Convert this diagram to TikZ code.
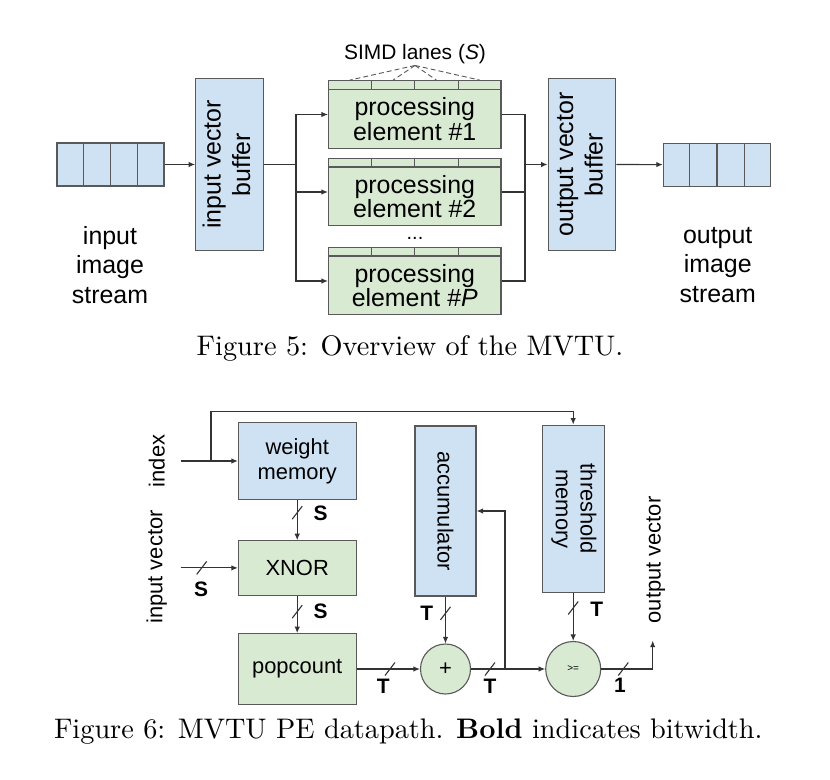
\documentclass[tikz,border=0pt]{standalone}
\usepackage{fontspec}
\usepackage{graphicx}
\usetikzlibrary{arrows.meta}
\usetikzlibrary{calc}
\usepackage{xcolor}

\newfontfamily\drawfont{Liberation Sans}
\definecolor{memblue}{HTML}{CFE2F3}
\definecolor{pegreen}{HTML}{D9EAD3}
\definecolor{boxline}{HTML}{595959}

\begin{document}
\begin{tikzpicture}[x=1bp,y=-1bp,
    bigtext/.style={font=\drawfont\fontsize{25}{29.5}\selectfont, align=center},
    petext/.style={font=\drawfont\fontsize{25}{23}\selectfont, align=center, inner sep=1bp},
    smalltext/.style={font=\drawfont\fontsize{22}{25}\selectfont, align=center},
    bitw/.style={font=\drawfont\bfseries\fontsize{21}{21}\selectfont, inner sep=0pt},
    membox/.style={draw=boxline, fill=memblue, line width=1.1bp, inner sep=0pt},
    logicbox/.style={draw=boxline, fill=pegreen, line width=1.1bp, inner sep=0pt},
    opcirc/.style={circle, draw=boxline, fill=pegreen, line width=1.1bp, inner sep=0pt},
    wire/.style={line width=1.1bp, draw=black!80},
    arr/.style={wire, -{Latex[length=6.5bp,width=5.5bp]}}]
      \useasboundingbox (0,0) rectangle (830,780);

      % Overview: streams and buffers
      \node[membox, minimum width=107bp, minimum height=43bp] (inq) at (110.5,164.5) {};
      \node[membox, minimum width=107.4bp, minimum height=43bp] (outq) at (717,164.6) {};
      \foreach \q in {inq,outq}
      {
        \foreach \i in {1,2,3}
          \draw[boxline, line width=1.1bp] ($(\q.north west)!\i/4!(\q.north east)$) -- ($(\q.south west)!\i/4!(\q.south east)$);
      }
      \node[bigtext] (inlbl) at (110,265) {input\\image\\stream};
      \node[bigtext] (outlbl) at (717.7,265) {output\\image\\stream};

      \node[membox, bigtext, minimum width=67.6bp, minimum height=172.4bp] (ivb) at (229.5,164.5)
        {\rotatebox{90}{\begin{tabular}{@{}c@{}}input vector\\buffer\end{tabular}}};
      \node[membox, bigtext, minimum width=67.7bp, minimum height=172.4bp] (ovb) at (582,164.5)
        {\rotatebox{90}{\begin{tabular}{@{}c@{}}output vector\\buffer\end{tabular}}};

      % Processing elements
      \foreach \p/\y/\t in {1/114.5/\#1, 2/192/\#2, P/281/\#\textit{P}}
      {
        \node[logicbox, minimum width=172.5bp, minimum height=67.6bp,
          label={[petext, yshift=-4.6bp]center:processing\\element \t}] (pe\p) at (414.75,\y) {};
        \draw[boxline, line width=1.1bp] ($(pe\p.north west)+(0,9.3)$) -- ($(pe\p.north east)+(0,9.3)$);
        \foreach \i in {1,2,3}
          \draw[boxline, line width=1.1bp] ($(pe\p.north west)!\i/4!(pe\p.north east)$) -- ++(0,9.3);
      }
      \node[font=\drawfont\fontsize{20}{20}\selectfont, inner sep=0pt] (dots) at (415,238) {...};

      % SIMD lanes
      \node[font=\drawfont\fontsize{21}{21}\selectfont, inner sep=1.5bp] (simd) at (415,54) {SIMD lanes (\textit{S})};
      \foreach \f in {0.125,0.375,0.625,0.875}
        \draw[boxline, line width=0.9bp, dash pattern=on 5bp off 3bp] (simd.south) -- ($(pe1.north west)!\f!(pe1.north east)$);

      % Overview connections
      \coordinate (fanin) at (296,164.5);
      \coordinate (fanout) at (525,164.5);
      \draw[arr] (inq.east) -- (ivb.west);
      \draw[wire] (ivb.east) -- (fanin);
      \foreach \p in {1,2,P}
      {
        \draw[arr] (fanin) |- (pe\p.west);
        \draw[wire] (pe\p.east) -| (fanout);
      }
      \draw[arr] (fanout) -- (ovb.west);
      \draw[arr] (ovb.east) -- (outq.west);

      \node (cap5) at (410,348) {\scalebox{2.84}{Figure 5: Overview of the MVTU.}};

      % PE datapath
      \node[membox, smalltext, minimum width=117.7bp, minimum height=76.6bp] (wmem) at (297.2,461) {weight\\memory};
      \node[logicbox, smalltext, minimum width=117.7bp, minimum height=54.3bp] (xnor) at (297.2,567.9) {XNOR};
      \node[logicbox, smalltext, minimum width=117.7bp, minimum height=70.7bp] (popc) at (297.2,669) {popcount};
      \node[membox, smalltext, minimum width=61bp, minimum height=170bp] (acc) at (445.5,511) {\rotatebox{-90}{accumulator}};
      \node[membox, smalltext, minimum width=61.7bp, minimum height=167.7bp] (thr) at (573.2,508.9)
        {\rotatebox{-90}{\begin{tabular}{@{}c@{}}threshold\\memory\end{tabular}}};
      \node[opcirc, smalltext, minimum size=50bp] (add) at (445.5,669) {+};
      \node[opcirc, font=\drawfont\fontsize{10}{10}\selectfont, minimum size=55bp] (cmp) at (573.2,669) {>=};

      \node[smalltext, rotate=90] (idxlbl) at (156.7,461) {index};
      \node[smalltext, rotate=90] (ivlbl) at (156.7,567) {input vector};
      \node[smalltext, rotate=90] (ovlbl) at (655.7,560) {output vector};

      \coordinate (idxin) at (180.7,461);
      \coordinate (ivin) at (180.7,567.9);
      \coordinate (split) at (211,461);
      \coordinate (fb) at (505,669);
      \coordinate (ovout) at (652.7,640.7);

      \draw[arr] (idxin) -- (wmem.west);
      \draw[arr] (split) |- ($(thr.north)+(0,-13.3)$) -- (thr.north);
      \draw[arr] (ivin) -- (xnor.west);
      \draw[arr] (wmem.south) -- (xnor.north);
      \draw[arr] (xnor.south) -- (popc.north);
      \draw[arr] (popc.east) -- (add.west);
      \draw[arr] (acc.south) -- (add.north);
      \draw[arr] (add.east) -- (cmp.west);
      \draw[arr] (fb) |- (acc.east);
      \draw[arr] (thr.south) -- (cmp.north);
      \draw[arr] (cmp.east) -| (ovout);

      % Bus widths
      \foreach \x/\y in {201.7/567.9, 297.2/512.7, 297.2/611.7, 390/669, 445.5/613.3, 490/669, 573.2/608, 623.3/669}
        \draw[wire] ($(\x,\y)+(-5,6.5)$) -- ($(\x,\y)+(5,-6.5)$);
      \node[bitw] (bwin) at (201,589) {S};
      \node[bitw] (bwwm) at (320.7,513.3) {S};
      \node[bitw] (bwxn) at (320.7,611.7) {S};
      \node[bitw] (bwpc) at (383.3,686.7) {T};
      \node[bitw] (bwacc) at (426.7,613) {T};
      \node[bitw] (bwadd) at (490,686.7) {T};
      \node[bitw] (bwthr) at (596.7,609) {T};
      \node[bitw] (bwcmp) at (620,685) {1};

      \node (cap6) at (408.3,731.7) {\scalebox{2.84}{Figure 6: MVTU PE datapath. \textbf{Bold} indicates bitwidth.}};
  \end{tikzpicture}
\end{document}
